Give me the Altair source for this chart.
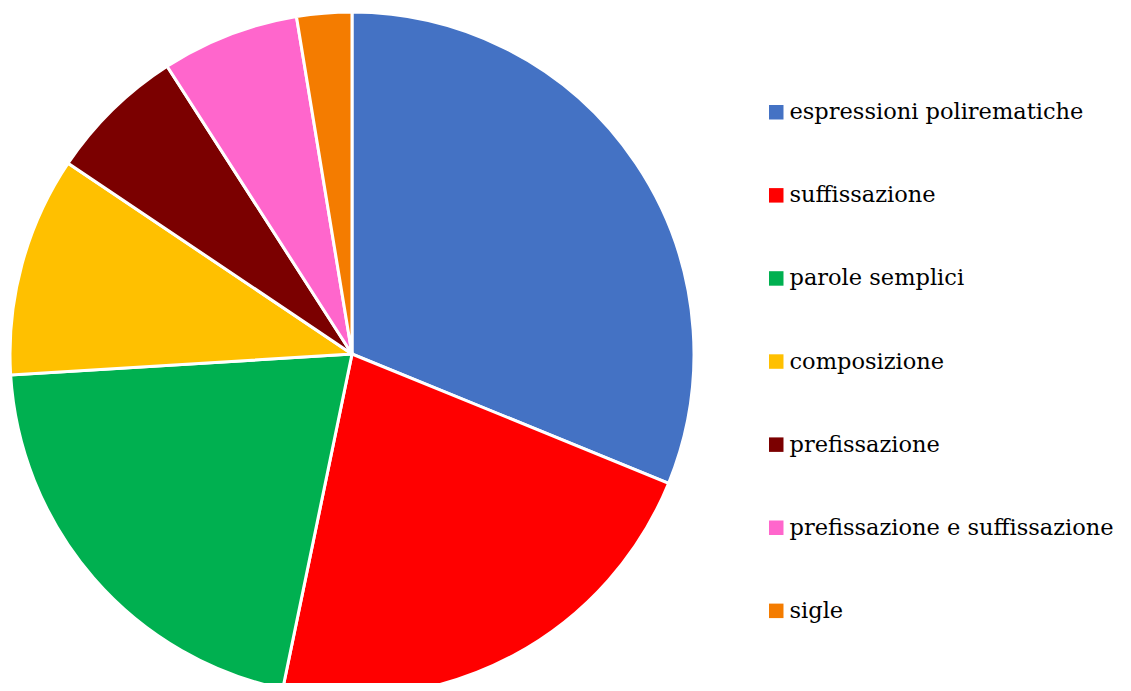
import altair as alt
import pandas as pd

categories = ["espressioni polirematiche", "suffissazione", "parole semplici", "composizione",
              "prefissazione", "prefissazione e suffissazione", "sigle"]
values = [24, 17, 16, 8, 5, 5, 2]
colors = ["#4472C4", "#FF0000", "#00B050", "#FFC000", "#7B0000", "#FF66CC", "#F47C00"]

df = pd.DataFrame({"categoria": categories, "valore": values, "ordine": list(range(len(values)))})

chart = alt.Chart(df).mark_arc(stroke="white", strokeWidth=3, radius=342).encode(
    theta=alt.Theta("valore:Q", stack=True),
    order=alt.Order("ordine:Q"),
    x=alt.value(344),
    y=alt.value(346),
    color=alt.Color("categoria:N", sort=categories,
                    scale=alt.Scale(domain=categories, range=colors),
                    legend=alt.Legend(title=None, orient="none", legendX=757, legendY=93,
                                      symbolType="square", symbolSize=210, symbolStrokeWidth=0,
                                      labelFontSize=22.5, labelFont="DejaVu Serif",
                                      labelColor="black", rowPadding=60.1, labelOffset=2,
                                      labelLimit=400)),
).properties(
    width=1115, height=675, padding=0,
    autosize=alt.AutoSizeParams(type="none"),
).configure_view(stroke=None)

chart.save("out.html", embed_options={"renderer": "svg", "actions": False})
